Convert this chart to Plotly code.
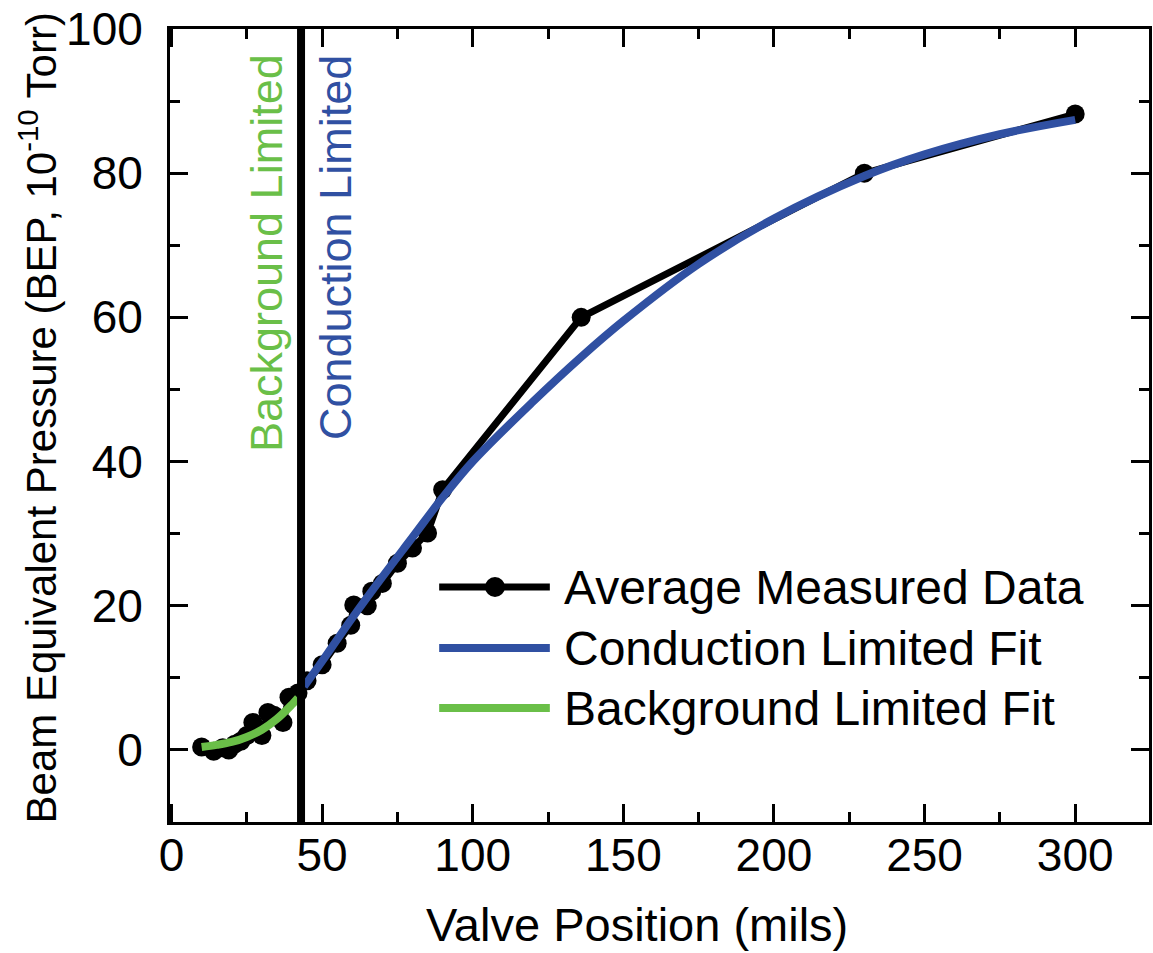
import plotly.graph_objects as go

# ---- data ----
data_x = [10, 14, 17, 19, 21, 23, 25, 27, 30, 32, 34, 37, 39, 42,
          45, 50, 55, 59.5, 60.5, 65, 66.5, 70, 75, 80, 85, 90, 136, 230, 300]
data_y = [0.4, -0.2, 0.3, 0.0, 0.8, 1.2, 2.0, 3.8, 2.0, 5.2, 4.8, 3.8, 7.3, 7.9,
          9.6, 11.8, 14.8, 17.3, 20.1, 20.0, 22.0, 23.1, 25.9, 28.0, 30.1, 36.1, 60.0, 80.0, 88.2]

cond_x = [44, 50, 60, 70, 80, 90, 100, 120, 136, 150, 175, 200, 230, 250, 275, 300]
cond_y = [8.8, 12.3, 18.3, 24.0, 29.5, 35.0, 40.0, 48.3, 54.5, 59.5, 67.4, 73.7, 79.6, 82.6, 85.4, 87.4]

bg_x = [10, 15, 20, 25, 30, 35, 40, 42]
bg_y = [0.4, 0.7, 1.1, 1.8, 2.8, 4.3, 6.3, 7.2]

boundary_x = 43

x_ticks = [0, 50, 100, 150, 200, 250, 300]
y_ticks = [0, 20, 40, 60, 80, 100]

legend_labels = ["Average Measured Data", "Conduction Limited Fit", "Background Limited Fit"]

BLUE = "#3050A2"
GREEN = "#6ABF48"
FONT = "Liberation Sans, Arial, sans-serif"

W, H = 1153, 953
ML, MR, MT, MB = 170, 1, 29, 131
PW, PH = W - ML - MR, H - MT - MB


def px2paper_x(px):
    return (px - ML) / PW


def px2paper_y(py):
    return (H - MB - py) / PH


fig = go.Figure()

fig.add_trace(go.Scatter(x=data_x, y=data_y, mode="lines+markers",
                         line=dict(color="black", width=7),
                         marker=dict(color="black", size=19),
                         showlegend=False))
fig.add_trace(go.Scatter(x=cond_x, y=cond_y, mode="lines",
                         line=dict(color=BLUE, width=8, shape="spline"),
                         showlegend=False))
fig.add_trace(go.Scatter(x=bg_x, y=bg_y, mode="lines",
                         line=dict(color=GREEN, width=8, shape="spline"),
                         showlegend=False))

# vertical boundary line
fig.add_shape(type="line", xref="x", yref="paper", x0=boundary_x, x1=boundary_x,
              y0=0, y1=1, line=dict(color="black", width=8), layer="above")

# region annotations
fig.add_annotation(x=boundary_x, xref="x", xshift=-34, y=px2paper_y(253), yref="paper",
                   text="Background Limited", textangle=-90, showarrow=False,
                   font=dict(family=FONT, size=45, color=GREEN),
                   xanchor="center", yanchor="middle")
fig.add_annotation(x=boundary_x, xref="x", xshift=34, y=px2paper_y(248), yref="paper",
                   text="Conduction Limited", textangle=-90, showarrow=False,
                   font=dict(family=FONT, size=45, color=BLUE),
                   xanchor="center", yanchor="middle")

# manual legend
leg_rows = [587, 648, 708]
leg_colors = ["black", BLUE, GREEN]
for lab, py, col in zip(legend_labels, leg_rows, leg_colors):
    fig.add_shape(type="line", xref="paper", yref="paper",
                  x0=px2paper_x(440), x1=px2paper_x(551),
                  y0=px2paper_y(py), y1=px2paper_y(py),
                  line=dict(color=col, width=8 if col != "black" else 7))
    fig.add_annotation(x=px2paper_x(563), y=px2paper_y(py), xref="paper", yref="paper",
                       text=lab, showarrow=False, xanchor="left", yanchor="middle",
                       font=dict(family=FONT, size=48, color="black"))
fig.add_shape(type="circle", xref="paper", yref="paper",
              x0=px2paper_x(496 - 10), x1=px2paper_x(496 + 10),
              y0=px2paper_y(587 + 10), y1=px2paper_y(587 - 10),
              fillcolor="black", line=dict(color="black", width=0))

# axis titles
fig.add_annotation(x=px2paper_x(638), y=px2paper_y(924), xref="paper", yref="paper",
                   text="Valve Position (mils)", showarrow=False,
                   xanchor="center", yanchor="middle",
                   font=dict(family=FONT, size=47, color="black"))
fig.add_annotation(x=px2paper_x(38), y=px2paper_y(418), xref="paper", yref="paper",
                   text="Beam Equivalent Pressure (BEP, 10<sup>-10</sup> Torr)",
                   textangle=-90, showarrow=False,
                   xanchor="center", yanchor="middle",
                   font=dict(family=FONT, size=42, color="black"))

axis_common = dict(showline=True, linecolor="black", linewidth=3, mirror="ticks",
                   ticks="inside", ticklen=18, tickwidth=3, tickcolor="black",
                   showgrid=False, zeroline=False,
                   tickfont=dict(family=FONT, size=46, color="black"))

fig.update_xaxes(range=[-0.5, 324.5], tickvals=x_ticks, ticklabelstandoff=-9,
                 minor=dict(ticks="inside", ticklen=10, tickwidth=3, tickcolor="black",
                            dtick=25, tick0=0, showgrid=False),
                 **axis_common)
fig.update_yaxes(range=[-10, 100], tickvals=y_ticks, ticklabelstandoff=15,
                 minor=dict(ticks="inside", ticklen=10, tickwidth=3, tickcolor="black",
                            dtick=10, tick0=0, showgrid=False),
                 **axis_common)

fig.update_layout(width=W, height=H,
                  margin=dict(l=ML, r=MR, t=MT, b=MB, pad=0),
                  paper_bgcolor="white", plot_bgcolor="white",
                  showlegend=False)

fig.write_html("out.html")
